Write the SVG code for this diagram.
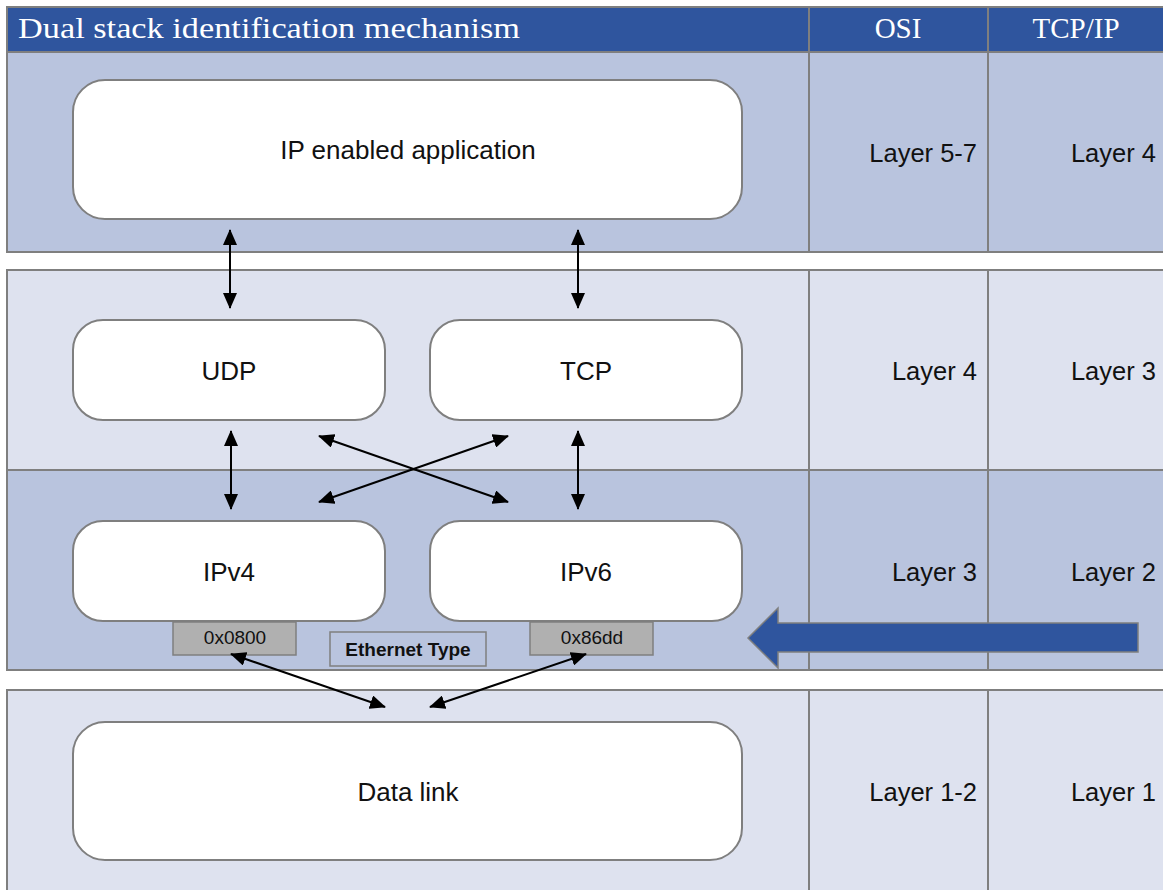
<svg xmlns="http://www.w3.org/2000/svg" width="1163" height="890" viewBox="0 0 1163 890">
<style>
.band{stroke:#7f7f7f;stroke-width:2}
.dark{fill:#B9C4DE}
.light{fill:#DEE2EF}
.div{stroke:#7f7f7f;stroke-width:2}
.node{fill:#fff;stroke:#7f7f7f;stroke-width:2}
.t{font-family:"Liberation Sans",Arial,sans-serif;font-size:26px;fill:#111;text-anchor:middle}
.lay{font-family:"Liberation Sans",Arial,sans-serif;font-size:25.5px;fill:#111;text-anchor:end}
.h{font-family:"Liberation Serif","Times New Roman",serif;font-size:29px;fill:#fff}
.hex{fill:#B0B0B0;stroke:#7f7f7f;stroke-width:1.5}
.small{font-family:"Liberation Sans",Arial,sans-serif;font-size:19px;fill:#111;text-anchor:middle}
.conn line{stroke:#000;stroke-width:2;marker-start:url(#ah);marker-end:url(#ah)}
</style>
<defs>
<marker id="ah" markerUnits="userSpaceOnUse" markerWidth="16" markerHeight="14" refX="15" refY="7" orient="auto-start-reverse">
<path d="M0,0 L16,7 L0,14 Z" fill="#000"/>
</marker>
</defs>
<rect width="1163" height="890" fill="#fff"/>
<g id="header">
<rect x="7" y="7" width="1170" height="45" fill="#2F559E" stroke="#7f7f7f" stroke-width="2"/>
<line class="div" x1="809" y1="7" x2="809" y2="52"/>
<line class="div" x1="988" y1="7" x2="988" y2="52"/>
<text class="h" x="18" y="38" textLength="502" lengthAdjust="spacingAndGlyphs">Dual stack identification mechanism</text>
<text class="h" x="898" y="38" text-anchor="middle">OSI</text>
<text class="h" x="1076" y="38" text-anchor="middle">TCP/IP</text>
</g>
<g id="bands">
<rect class="band dark" x="7" y="52" width="1170" height="200"/>
<rect class="band light" x="7" y="270" width="1170" height="200"/>
<rect class="band dark" x="7" y="470" width="1170" height="200"/>
<rect class="band light" x="7" y="690" width="1170" height="210"/>
<line class="div" x1="809" y1="52" x2="809" y2="252"/>
<line class="div" x1="988" y1="52" x2="988" y2="252"/>
<line class="div" x1="809" y1="270" x2="809" y2="670"/>
<line class="div" x1="988" y1="270" x2="988" y2="670"/>
<line class="div" x1="809" y1="690" x2="809" y2="890"/>
<line class="div" x1="988" y1="690" x2="988" y2="890"/>
</g>
<g id="layers">
<text class="lay" x="977" y="162">Layer 5-7</text>
<text class="lay" x="1156" y="162">Layer 4</text>
<text class="lay" x="977" y="380">Layer 4</text>
<text class="lay" x="1156" y="380">Layer 3</text>
<text class="lay" x="977" y="581">Layer 3</text>
<text class="lay" x="1156" y="581">Layer 2</text>
<text class="lay" x="977" y="801">Layer 1-2</text>
<text class="lay" x="1156" y="801">Layer 1</text>
</g>
<g id="app">
<rect class="node" x="73" y="80" width="669" height="139" rx="32"/>
<text class="t" x="408" y="159">IP enabled application</text>
</g>
<g id="udp">
<rect class="node" x="73" y="320" width="312" height="100" rx="30"/>
<text class="t" x="229" y="380">UDP</text>
</g>
<g id="tcp">
<rect class="node" x="430" y="320" width="312" height="100" rx="30"/>
<text class="t" x="586" y="380">TCP</text>
</g>
<g id="ipv4">
<rect class="node" x="73" y="521" width="312" height="100" rx="30"/>
<text class="t" x="229" y="581">IPv4</text>
</g>
<g id="ipv6">
<rect class="node" x="430" y="521" width="312" height="100" rx="30"/>
<text class="t" x="586" y="581">IPv6</text>
</g>
<g id="hex0800">
<rect class="hex" x="173" y="622" width="123" height="33"/>
<text class="small" x="235" y="644">0x0800</text>
</g>
<g id="hex86dd">
<rect class="hex" x="530" y="622" width="123" height="33"/>
<text class="small" x="592" y="644">0x86dd</text>
</g>
<g id="ethertype">
<rect x="330" y="632" width="156" height="34" fill="#B9C4DE" stroke="#7f7f7f" stroke-width="1.5"/>
<text class="small" x="408" y="656" font-weight="bold">Ethernet Type</text>
</g>
<g id="datalink">
<rect class="node" x="73" y="722" width="669" height="138" rx="32"/>
<text class="t" x="408" y="801">Data link</text>
</g>
<g id="bigarrow">
<path d="M748,638 L778,608 L778,623 L1138,623 L1138,652 L778,652 L778,668 Z" fill="#2F559E" stroke="#7f7f7f" stroke-width="1.5"/>
</g>
<g id="connectors" class="conn">
<line x1="230" y1="230" x2="230" y2="308"/>
<line x1="578" y1="230" x2="578" y2="308"/>
<line x1="231" y1="431" x2="231" y2="509"/>
<line x1="578" y1="431" x2="578" y2="509"/>
<line x1="319" y1="436" x2="508" y2="502"/>
<line x1="508" y1="436" x2="319" y2="502"/>
<line x1="231" y1="654" x2="385" y2="707"/>
<line x1="586" y1="654" x2="430" y2="707"/>
</g>
</svg>
